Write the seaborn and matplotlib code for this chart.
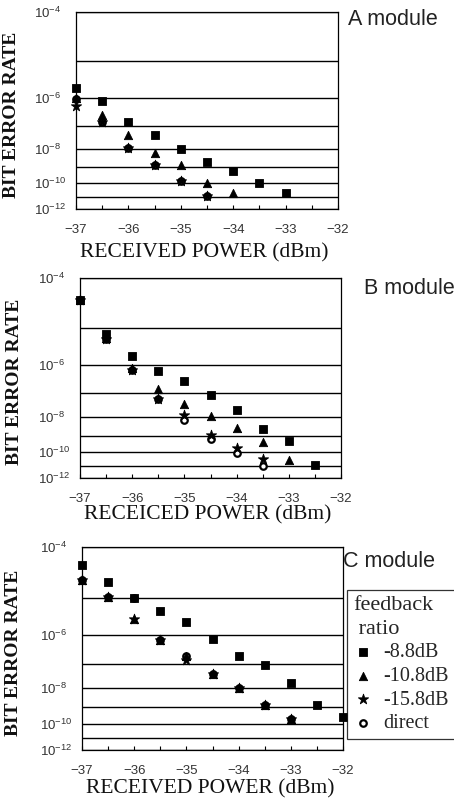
import numpy as np
import matplotlib
matplotlib.use("Agg")
import matplotlib.pyplot as plt
import seaborn as sns
from matplotlib.ticker import FixedLocator, MultipleLocator

sns.set_theme(style="white")
plt.rcParams['font.family'] = ['Liberation Sans', 'DejaVu Sans']
plt.rcParams['mathtext.default'] = 'regular'

# values (BER vs received power, dBm)
a_power = [-37, -36.5, -36, -35.5, -35, -34.5, -34, -33.5, -33]
a_sq = [1.9e-6, 7.8e-7, 1.4e-7, 4.2e-8, 1.0e-8, 2.1e-9, 6.0e-10, 1.1e-10, 2.0e-11]
a_tri = [1.0e-6, 2.5e-7, 4.2e-8, 6.0e-9, 1.3e-9, 1.0e-10, 2.0e-11]
a_star = [5.5e-7, 1.4e-7, 1.1e-8, 1.3e-9, 1.5e-10, 1.2e-11]
a_dir = [9.1e-7, 1.4e-7, 1.1e-8, 1.3e-9, 1.5e-10, 1.2e-11]

b_power = [-37, -36.5, -36, -35.5, -35, -34.5, -34, -33.5, -33, -32.5]
b_sq = [4.0e-5, 7.2e-6, 1.9e-6, 6.5e-7, 2.8e-7, 9.1e-8, 2.0e-8, 2.3e-9, 4.7e-10, 1.2e-11]
b_tri = [4.0e-5, 5.6e-6, 7.8e-7, 1.5e-7, 3.8e-8, 1.1e-8, 2.6e-9, 4.1e-10, 2.9e-11]
b_star = [4.0e-5, 5.2e-6, 7.1e-7, 6.3e-8, 1.2e-8, 1.1e-9, 1.9e-10, 3.5e-11]
b_dir = [4.0e-5, 5.2e-6, 7.1e-7, 6.3e-8, 6.9e-9, 6.8e-10, 8.3e-11, 1.0e-11]

c_power = [-37, -36.5, -36, -35.5, -35, -34.5, -34, -33.5, -33, -32.5, -32]
c_sq = [4.9e-5, 2.2e-5, 1.0e-5, 4.8e-6, 2.4e-6, 7.8e-7, 2.0e-7, 9.1e-8, 1.7e-8, 1.3e-9, 2.5e-10]
c_tri = [2.5e-5, 1.05e-5, 3.0e-6, 7.1e-7, 2.0e-7, 4.1e-8, 1.0e-8, 1.3e-9, 1.9e-10]
c_star = [2.5e-5, 1.05e-5, 3.0e-6, 7.1e-7, 1.4e-7, 4.1e-8, 1.0e-8, 1.3e-9, 1.9e-10]
c_dir = [2.5e-5, 1.05e-5, 1.0e-5, 7.1e-7, 2.0e-7, 4.1e-8, 1.0e-8, 1.3e-9, 1.9e-10]

ratio_labels = ['-8.8dB', '-10.8dB', '-15.8dB', 'direct']
decades = [1e-4, 1e-5, 1e-6, 1e-7, 1e-8, 1e-9, 1e-10, 1e-11, 1e-12]
decade_labels = [r'$10^{-4}$', '', r'$10^{-6}$', '', r'$10^{-8}$', '',
                 r'$10^{-10}$', '', r'$10^{-12}$']


# BER axis: like the old graph paper, spacing shrinks towards low BER
def ber_fwd(y):
    y = np.clip(np.asarray(y, dtype=float), 1e-300, 0.999)
    return (-np.log10(y)) ** -0.5


def ber_inv(v):
    v = np.clip(np.asarray(v, dtype=float), 1e-3, None)
    return 10.0 ** (-1.0 / v ** 2)


def draw_panel(ax, power, series, title, title_xy, xlabel, xlab_y, ylab_x):
    # marker, face colour, size, zorder
    styles = [('s', 'black', 34, 4), ('^', 'black', 36, 4),
              ('*', 'black', 60, 5), ('o', 'white', 22, 3)]
    for ys, (m, fc, s, z), lab in zip(series, styles, ratio_labels):
        sns.scatterplot(x=power[:len(ys)], y=ys, marker=m, s=s, color=fc,
                        edgecolor='black', linewidth=1.6 if m == 'o' else 0.6,
                        label=lab, ax=ax, zorder=z, clip_on=False)
    if ax.get_legend() is not None:
        ax.get_legend().remove()

    ax.set_yscale('function', functions=(ber_fwd, ber_inv))
    ax.set_ylim(1e-12, 1e-4)
    ax.set_xlim(-37, -32)
    ax.yaxis.set_major_locator(FixedLocator(decades))
    ax.set_yticklabels(decade_labels, ha='left')
    ax.yaxis.set_minor_locator(FixedLocator([]))
    ax.xaxis.set_major_locator(MultipleLocator(1))
    ax.xaxis.set_minor_locator(MultipleLocator(0.5))
    ax.grid(axis='y', color='black', linewidth=1.0)
    ax.grid(axis='x', visible=False)
    ax.tick_params(axis='y', length=0, pad=30, labelsize=9.5, labelcolor='#333333')
    ax.tick_params(axis='x', which='both', direction='in', bottom=True, length=3,
                   width=0.8, color='black', pad=11, labelsize=9.5, labelcolor='#333333')
    for sp in ax.spines.values():
        sp.set_color('black')
        sp.set_linewidth(0.9)

    ax.set_ylabel('BIT ERROR RATE', fontfamily='Liberation Serif', fontweight='bold',
                  fontsize=14, color='#111111')
    ax.yaxis.set_label_coords(ylab_x, 0.48)
    ax.set_xlabel(xlabel, fontfamily='Liberation Serif', fontsize=15.5, color='#111111')
    ax.xaxis.set_label_coords(0.49, xlab_y)
    ax.text(title_xy[0], title_xy[1], title, transform=ax.transAxes, ha='left',
            va='center', fontsize=15.5, color='#222222')


fig = plt.figure(figsize=(4.54, 8.0), dpi=100)
ax_a = fig.add_axes([76 / 454, 1 - 209 / 800, 262 / 454, 197 / 800])
ax_b = fig.add_axes([80 / 454, 1 - 478 / 800, 261 / 454, 200 / 800])
ax_c = fig.add_axes([82 / 454, 1 - 750 / 800, 261 / 454, 203 / 800])

draw_panel(ax_a, a_power, [a_sq, a_tri, a_star, a_dir], 'A module', (1.04, 0.96),
           'RECEIVED POWER (dBm)', -0.173, -0.214)
draw_panel(ax_b, b_power, [b_sq, b_tri, b_star, b_dir], 'B module', (1.09, 0.95),
           'RECEICED POWER (dBm)', -0.135, -0.218)
draw_panel(ax_c, c_power, [c_sq, c_tri, c_star, c_dir], 'C module', (1.0, 0.93),
           'RECEIVED POWER (dBm)', -0.145, -0.23)

handles = ax_c.collections[:4]
leg = fig.legend(handles, ratio_labels, loc='upper left',
                 bbox_to_anchor=(347 / 454, 1 - 590 / 800), title='feedback\n ratio',
                 alignment='left', frameon=True, fancybox=False, edgecolor='black',
                 prop={'family': 'Liberation Serif', 'size': 14.5},
                 title_fontproperties={'family': 'Liberation Serif', 'size': 16},
                 handletextpad=0.5, handlelength=1.0, labelspacing=0.22,
                 borderpad=0.3, borderaxespad=0)
leg.get_title().set_linespacing(1.35)
leg.get_frame().set_linewidth(0.9)

fig.savefig('out.png', dpi=100)
